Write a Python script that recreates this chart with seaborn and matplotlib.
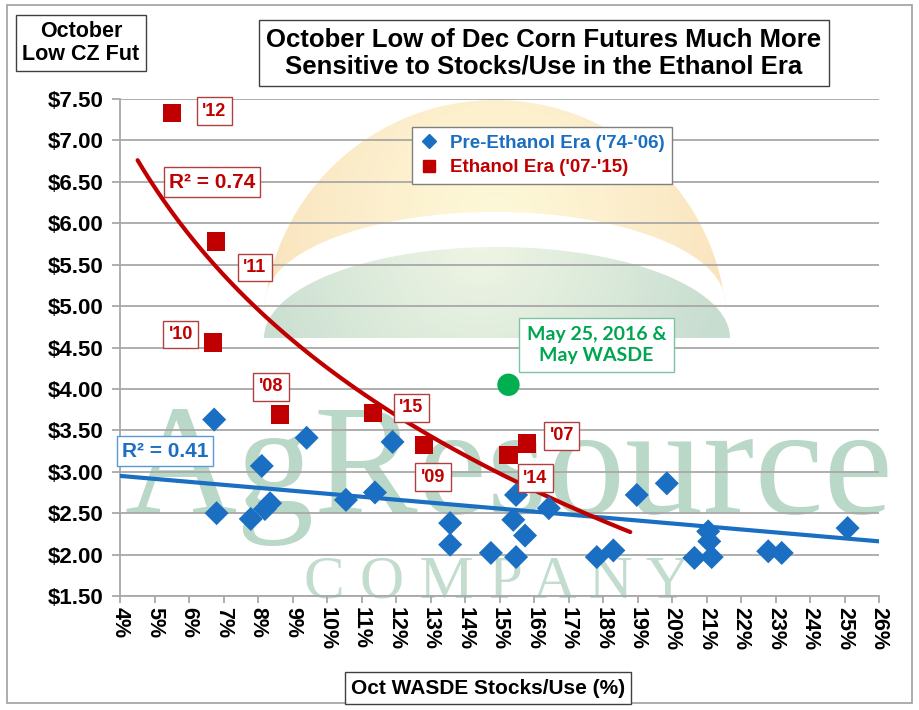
import numpy as np
import pandas as pd
import matplotlib
matplotlib.use("Agg")
import matplotlib.pyplot as plt
import matplotlib.font_manager as fm
from matplotlib.colors import LinearSegmentedColormap
from matplotlib.lines import Line2D
from matplotlib.patches import Polygon, Rectangle
import seaborn as sns

# Pre-ethanol era ('74-'06): Oct WASDE stocks/use (%) vs October low of Dec corn ($/bu)
pre_su = [6.73, 6.80, 7.79, 8.11, 8.35, 8.20, 9.41, 10.55, 11.39, 11.90, 13.57, 13.57,
          14.75, 15.48, 15.40, 15.74, 15.48, 16.43, 17.82, 18.30, 18.98, 19.85, 20.65,
          21.05, 21.08, 21.15, 22.79, 23.18, 25.09]
pre_low = [3.63, 2.50, 2.43, 3.07, 2.62, 2.55, 3.41, 2.66, 2.75, 3.36, 2.38, 2.12,
           2.02, 2.72, 2.42, 2.23, 1.97, 2.56, 1.97, 2.05, 2.72, 2.86, 1.96,
           2.28, 2.16, 1.97, 2.04, 2.02, 2.32]

# linear trend of the pre-ethanol era, as drawn in the chart (read at the axis ends)
pre_trend_su = [4, 26]
pre_trend_low = [2.95, 2.16]
pre_r2 = 0.41

# Ethanol era ('07-'15)
eth_years = ["'07", "'08", "'09", "'10", "'11", "'12", "'14", "'15"]
eth_su = [15.79, 8.64, 12.81, 6.69, 6.78, 5.51, 15.26, 11.34]
eth_low = [3.34, 3.69, 3.32, 4.56, 5.78, 7.33, 3.20, 3.71]

# May 25, 2016 price vs May WASDE stocks/use
may_su = [15.26]
may_low = [4.05]

y_ticks = np.arange(1.5, 7.51, 0.5)
x_ticks = np.arange(4, 27, 1)

BLUE = "#1b6fc2"
RED = "#c00000"
GREEN = "#00b050"
W, H = 919, 710

sns.set_theme(style="white")
plt.rcParams["font.family"] = ["Liberation Sans", "DejaVu Sans"]
plt.rcParams["font.weight"] = "bold"

fig = plt.figure(figsize=(W / 100, H / 100), dpi=100)
fig.patch.set_facecolor("white")

# background layer in pixel coordinates for the watermark
bg = fig.add_axes([0, 0, 1, 1], zorder=0)
bg.axis("off")


def gradient_fill(patch, box, centre, radius, colors, alpha):
    x0, x1, y0, y1 = box
    yy, xx = np.mgrid[y0:y1, x0:x1]
    d = np.hypot(xx - centre[0], yy - centre[1]) / radius
    cmap = LinearSegmentedColormap.from_list("g", colors)
    im = bg.imshow(d, extent=(x0, x1, y1, y0), cmap=cmap, vmin=0, vmax=1,
                   alpha=alpha, aspect="auto", interpolation="bilinear")
    im.set_clip_path(patch)


th = np.linspace(np.pi, 0, 120)
sun_outer = np.c_[495 + 232 * np.cos(th), 332 - 232 * np.sin(th)]
sun_inner = np.c_[495 + 230 * np.cos(th[::-1]), 302 - 90 * np.sin(th[::-1])]
sun = Polygon(np.vstack([sun_outer, sun_inner]), closed=True, fc="none", ec="none")
bg.add_patch(sun)
gradient_fill(sun, (255, 740, 90, 310), (495, 215), 260,
              ["#fdf7cc", "#fbe9bb", "#f8d8a4"], 0.75)

dome_pts = np.c_[497 + 233 * np.cos(th), 338 - 91 * np.sin(th)]
dome = Polygon(dome_pts, closed=True, fc="none", ec="none")
bg.add_patch(dome)
gradient_fill(dome, (260, 735, 240, 340), (480, 245), 250,
              ["#ecf3de", "#d3e5d2", "#b9d5c4"], 0.8)

bg.text(124, 513, "AgResource", fontfamily="Liberation Serif", fontweight="normal",
        fontsize=112, color="#bad8c7", ha="left", va="baseline")
bg.text(497, 598, "C O M P A N Y", fontfamily="Liberation Serif", fontweight="normal",
        fontsize=44, color="#c2dccd", ha="center", va="baseline")
bg.set_xlim(0, W)
bg.set_ylim(H, 0)

# outer frame
bg.add_patch(Rectangle((7, 5), 905, 698, fill=False, ec="#a0a0a0", lw=1.2))

# main chart
ax = fig.add_axes([120 / W, 1 - 596 / H, 759 / W, 497 / H], zorder=2)
ax.set_facecolor("none")

pre_df = pd.DataFrame({"su": pre_su, "low": pre_low})
eth_df = pd.DataFrame({"su": eth_su, "low": eth_low, "year": eth_years})
may_df = pd.DataFrame({"su": may_su, "low": may_low})

# logarithmic trend for the ethanol era, extended like the spreadsheet trendline
b2, a2 = np.polyfit(np.log(eth_df["su"]), eth_df["low"], 1)
eth_r2 = np.corrcoef(np.log(eth_df["su"]), eth_df["low"])[0, 1] ** 2
xs_red = np.linspace(eth_df["su"].min() - 1.0, eth_df["su"].max() + 3.0, 100)

sns.lineplot(x=pre_trend_su, y=pre_trend_low, color=BLUE, lw=3, ax=ax, zorder=3)
sns.lineplot(x=xs_red, y=a2 + b2 * np.log(xs_red), color=RED, lw=3, ax=ax, zorder=3)

sns.scatterplot(data=pre_df, x="su", y="low", marker="D", s=150, color=BLUE,
                edgecolor="none", ax=ax, zorder=4)
sns.scatterplot(data=eth_df, x="su", y="low", marker="s", s=175, color=RED,
                edgecolor="none", ax=ax, zorder=5)
sns.scatterplot(data=may_df, x="su", y="low", marker="o", s=260, color=GREEN,
                edgecolor="none", ax=ax, zorder=5)

# year labels (offsets in pixels)
label_offsets = {"'07": (35, 8), "'08": (-9, 28), "'09": (9, -32), "'10": (-32, 8),
                 "'11": (39, -26), "'12": (42, 2), "'14": (27, -23), "'15": (38, 5)}
for _, r in eth_df.iterrows():
    ax.annotate(r["year"], (r["su"], r["low"]), xytext=label_offsets[r["year"]],
                textcoords="offset pixels", ha="center", va="center", fontsize=13,
                fontweight="bold", color=RED, zorder=6,
                bbox=dict(boxstyle="square,pad=0.3", fc="white", ec="#b04040", lw=1))

ax.annotate("May 25, 2016 &\nMay WASDE", (may_su[0], may_low[0]), xytext=(88, 40),
            textcoords="offset pixels", ha="center", va="center", fontsize=14,
            fontfamily=["Lato", "DejaVu Sans"], fontweight="bold", color="#00a550",
            linespacing=1.3, zorder=6,
            bbox=dict(boxstyle="square,pad=0.4", fc="white", ec="#7cc5a4", lw=1))


def fig_text(x, y, s, **kw):
    fig.text(x / W, 1 - y / H, s, ha="center", va="center", fontweight="bold", **kw)


fig_text(212, 182, f"R² = {eth_r2:.2f}", fontsize=15, color=RED, zorder=6,
         bbox=dict(boxstyle="square,pad=0.25", fc="white", ec="#b04040", lw=1))
fig_text(165, 451, f"R² = {pre_r2:.2f}", fontsize=15, color=BLUE, zorder=6,
         bbox=dict(boxstyle="square,pad=0.25", fc="white", ec="#5b9bd5", lw=1))

fig_text(544, 53, "October Low of Dec Corn Futures Much More\nSensitive to Stocks/Use in the Ethanol Era",
         fontsize=18.5, color="black", linespacing=1.15,
         bbox=dict(boxstyle="square,pad=0.3", fc="white", ec="#404040", lw=1))
fig_text(81, 43, "October\nLow CZ Fut", fontsize=15.5, color="black", linespacing=1.1,
         bbox=dict(boxstyle="square,pad=0.3", fc="white", ec="#404040", lw=1))

names = {f.name for f in fm.fontManager.ttflist}
narrow = "Liberation Sans Narrow" if "Liberation Sans Narrow" in names else "Liberation Sans"
fig_text(488, 688, "Oct WASDE Stocks/Use (%)", fontsize=15, color="black",
         fontfamily=narrow,
         bbox=dict(boxstyle="square,pad=0.3", fc="white", ec="#404040", lw=1))

# axes styling
ax.set_xlim(x_ticks[0], x_ticks[-1])
ax.set_ylim(y_ticks[0], y_ticks[-1])
ax.set_yticks(y_ticks)
ax.set_yticklabels([f"${v:.2f}" for v in y_ticks], fontsize=16, fontweight="bold")
ax.set_xticks(x_ticks)
ax.set_xticklabels([f"{v}%" for v in x_ticks], fontsize=15.5, fontweight="bold", rotation=270)
ax.set_xlabel("")
ax.set_ylabel("")
ax.yaxis.grid(True, color="#a8a8a8", lw=1.3, zorder=1)
ax.xaxis.grid(False)
ax.set_axisbelow(True)
for side in ["top", "right"]:
    ax.spines[side].set_visible(False)
for side in ["left", "bottom"]:
    ax.spines[side].set_color("#a8a8a8")
    ax.spines[side].set_linewidth(1.3)
ax.tick_params(axis="y", length=6, width=1.3, color="#a8a8a8", direction="out", pad=6,
               left=True, labelcolor="black")
ax.tick_params(axis="x", length=5, width=1.3, color="#a8a8a8", direction="out", pad=3,
               bottom=True, labelcolor="black")

handles = [Line2D([], [], marker="D", ls="none", color=BLUE, markersize=7),
           Line2D([], [], marker="s", ls="none", color=RED, markersize=8)]
leg = ax.legend(handles, ["Pre-Ethanol Era ('74-'06)", "Ethanol Era ('07-'15)"],
                loc="upper left", bbox_to_anchor=((412 - 120) / 759, (596 - 127) / 497),
                borderaxespad=0, frameon=True, fancybox=False, edgecolor="#808080",
                framealpha=1, prop=dict(size=13.5, weight="bold"), handlelength=1.0,
                handletextpad=0.6, borderpad=0.4, labelspacing=0.4)
leg.get_frame().set_linewidth(1)
for t, c in zip(leg.get_texts(), [BLUE, RED]):
    t.set_color(c)
leg.set_zorder(7)

fig.savefig("out.png", dpi=100)
